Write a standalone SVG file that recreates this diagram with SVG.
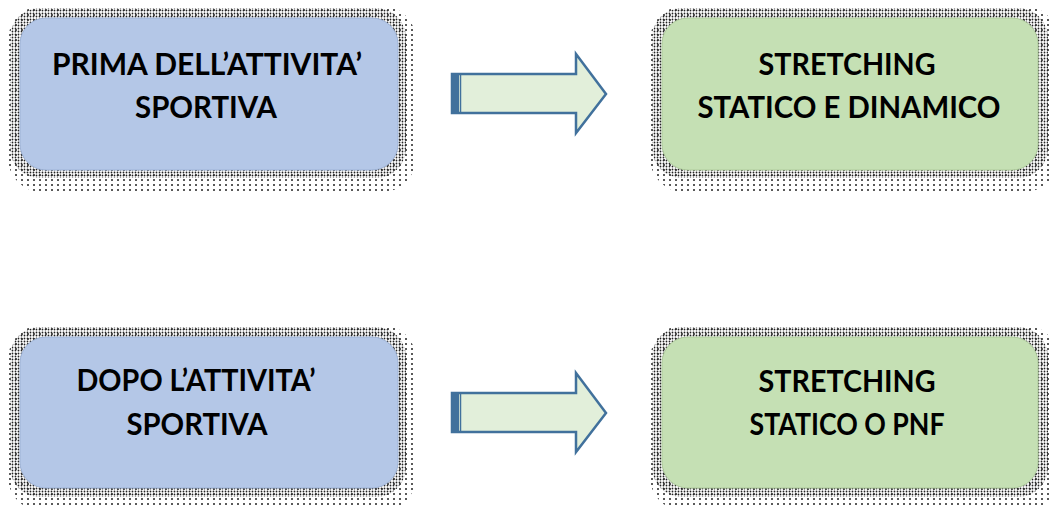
<svg xmlns="http://www.w3.org/2000/svg" width="1050" height="507" viewBox="0 0 1050 507">
<defs>
<pattern id="dots" width="3" height="3" patternUnits="userSpaceOnUse">
<circle cx="1.5" cy="1.5" r="0.9" fill="#222"/>
</pattern>
<pattern id="dots2" width="6" height="5" patternUnits="userSpaceOnUse">
<circle cx="2" cy="2" r="1" fill="#222"/>
</pattern>
<g id="shadow">
<rect x="-12" y="-12" width="408" height="186" rx="34" fill="url(#dots2)"/>
<rect x="-10" y="-10" width="396" height="170" rx="30" fill="url(#dots)"/>
</g>
<g id="arrow">
<path d="M452,74 H576 V54 L606,94 L576,133 V113 H452 Z" class="arrow"/>
<rect x="452" y="74" width="7" height="39" fill="#41719c"/>
<line x1="460.5" y1="74" x2="460.5" y2="113" stroke="#41719c" stroke-width="1.5"/>
</g>
</defs>
<style>
.arrow{fill:#e2efda;stroke:#41719c;stroke-width:2.5;stroke-linejoin:miter}
.blue{fill:#b4c7e7;stroke:#9eb3d6;stroke-width:1}
.green{fill:#c5e0b4;stroke:#aecb9c;stroke-width:1}
.t{font-family:Lato,"Open Sans","Liberation Sans",sans-serif;font-weight:bold;font-size:30px;fill:#000;text-anchor:middle}
</style>
<rect width="1050" height="507" fill="#fff"/>
<g id="node-prima">
<use href="#shadow" x="20" y="18"/>
<rect x="20" y="18" width="378" height="152" rx="26" class="blue"/>
<text class="t" x="207" y="75" textLength="310" lengthAdjust="spacingAndGlyphs">PRIMA DELL’ATTIVITA’</text>
<text class="t" x="206" y="118" textLength="142" lengthAdjust="spacingAndGlyphs">SPORTIVA</text>
</g>
<g id="node-stretching-1">
<use href="#shadow" x="662" y="18"/>
<rect x="662" y="18" width="376" height="152" rx="26" class="green"/>
<text class="t" x="847" y="75" textLength="177" lengthAdjust="spacingAndGlyphs">STRETCHING</text>
<text class="t" x="849" y="118" textLength="303" lengthAdjust="spacingAndGlyphs">STATICO E DINAMICO</text>
</g>
<g id="node-dopo">
<use href="#shadow" x="20" y="337"/>
<rect x="20" y="337" width="378" height="151" rx="26" class="blue"/>
<text class="t" x="196" y="391" textLength="239" lengthAdjust="spacingAndGlyphs">DOPO L’ATTIVITA’</text>
<text class="t" x="197" y="435" textLength="141" lengthAdjust="spacingAndGlyphs">SPORTIVA</text>
</g>
<g id="node-stretching-2">
<use href="#shadow" x="662" y="337"/>
<rect x="662" y="337" width="376" height="151" rx="26" class="green"/>
<text class="t" x="847" y="392" textLength="177" lengthAdjust="spacingAndGlyphs">STRETCHING</text>
<text class="t" x="847" y="435" textLength="195" lengthAdjust="spacingAndGlyphs">STATICO O PNF</text>
</g>
<g id="connectors">
<use href="#arrow"/>
<use href="#arrow" y="319"/>
</g>
</svg>
